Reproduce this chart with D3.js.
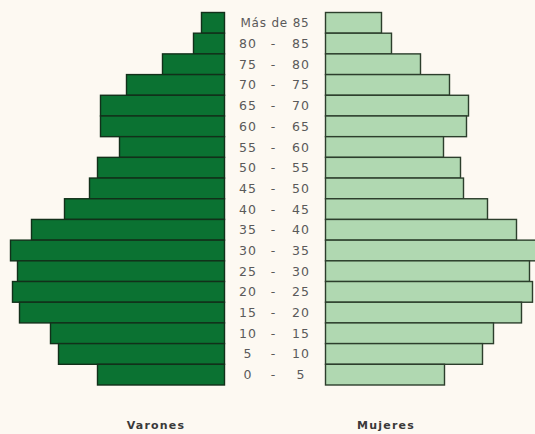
<!DOCTYPE html>
<html><head><meta charset="utf-8">
<script src="https://cdn.jsdelivr.net/npm/d3@7"></script>
<style>
html,body{margin:0;padding:0;background:#fdf9f2;}
svg{display:block;}
</style></head>
<body>
<svg id="c" width="535" height="434"></svg>
<script>
const groups = ["Más de 85","80 - 85","75 - 80","70 - 75","65 - 70","60 - 65","55 - 60","50 - 55","45 - 50","40 - 45","35 - 40","30 - 35","25 - 30","20 - 25","15 - 20","10 - 15","5 - 10","0 - 5"];
const lowLabels  = ["","80","75","70","65","60","55","50","45","40","35","30","25","20","15","10","5","0"];
const highLabels = ["","85","80","75","70","65","60","55","50","45","40","35","30","25","20","15","10","5"];
const varones = [23,31,62,98,124,124,105,127,135,160,193,214,207,212,205,174,166,127];
const mujeres = [56,66,95,124,143,141,118,135,138,162,191,212,204,207,196,168,157,119];
const seriesNames = ["Varones","Mujeres"];

const svg = d3.select("#c");
const y = d3.scaleBand().domain(groups).range([12.5, 385]).padding(0);
const xM = d3.scaleLinear().domain([0, 220]).range([224.5, 4.5]);
const xF = d3.scaleLinear().domain([0, 220]).range([325.5, 545.5]);

svg.append("g").selectAll("rect").data(groups).join("rect")
  .attr("x", (d,i)=>xM(varones[i]))
  .attr("y", d=>y(d))
  .attr("width", (d,i)=>xM(0)-xM(varones[i]))
  .attr("height", y.bandwidth())
  .attr("fill", "#0b7232")
  .attr("stroke", "#12301a")
  .attr("stroke-width", 1.4);

svg.append("g").selectAll("rect").data(groups).join("rect")
  .attr("x", xF(0))
  .attr("y", d=>y(d))
  .attr("width", (d,i)=>xF(mujeres[i])-xF(0))
  .attr("height", y.bandwidth())
  .attr("fill", "#b0d8b1")
  .attr("stroke", "#2c3e2c")
  .attr("stroke-width", 1.4);

const lab = svg.append("g").attr("font-family","'DejaVu Sans', Verdana, sans-serif")
  .attr("font-size", 12.5).attr("fill","#5a5a5a");
groups.forEach((g,i)=>{
  const cy = y(g) + y.bandwidth()/2 + 4.5;
  if (i===0) {
    lab.append("text").attr("x",275).attr("y",cy).attr("text-anchor","middle")
      .attr("font-size",12).attr("letter-spacing",0.8).text(g);
  } else {
    lab.append("text").attr("x",248).attr("y",cy).attr("text-anchor","middle").attr("letter-spacing",1).text(lowLabels[i]);
    lab.append("text").attr("x",273).attr("y",cy).attr("text-anchor","middle").text("-");
    lab.append("text").attr("x",301).attr("y",cy).attr("text-anchor","middle").attr("letter-spacing",1).text(highLabels[i]);
  }
});

svg.append("g").attr("font-family","'DejaVu Sans', Verdana, sans-serif")
  .attr("font-size", 11).attr("font-weight","bold").attr("fill","#3a3a3a")
  .attr("letter-spacing", 1.2)
  .selectAll("text").data(seriesNames).join("text")
  .attr("x",(d,i)=>i===0?156:386).attr("y",429).attr("text-anchor","middle").text(d=>d);
</script>
</body></html>
